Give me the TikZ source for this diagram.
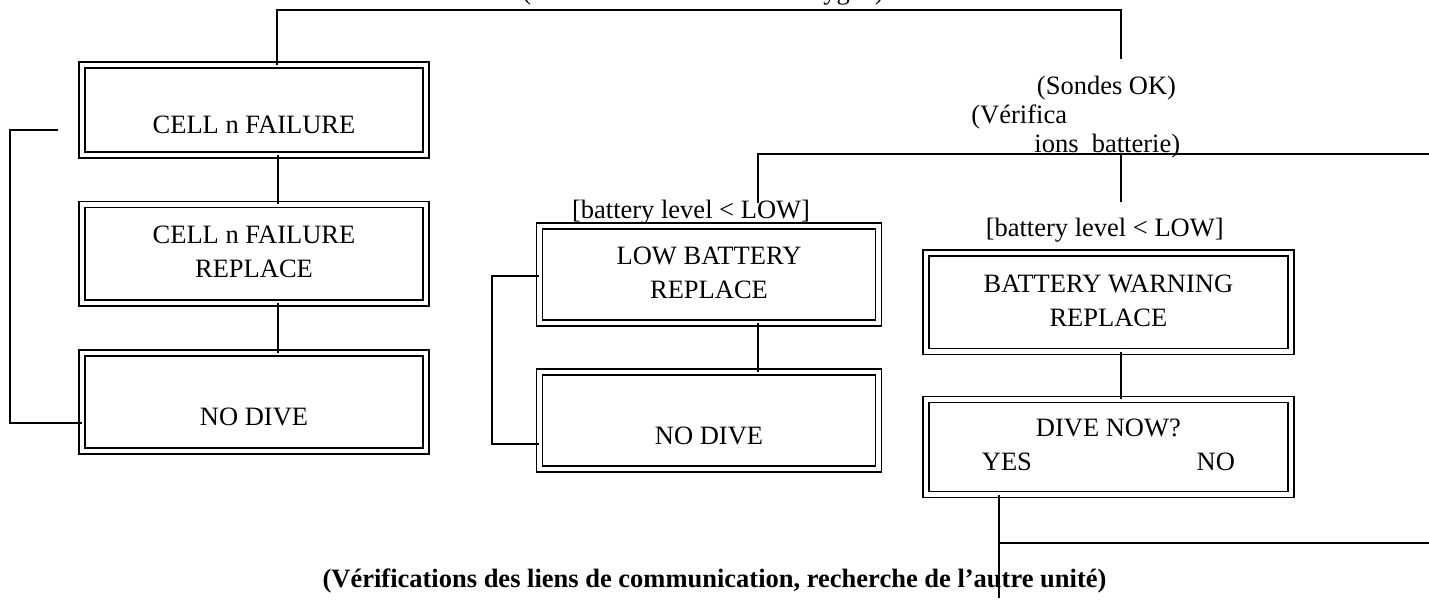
\documentclass[tikz,border=0pt]{standalone}
\usepackage{fontspec}
\setmainfont{Liberation Serif}
\usepackage{tikz}
\usetikzlibrary{positioning}

\newcommand{\screenfont}{\fontsize{13.25}{17}\selectfont}

\begin{document}
\begin{tikzpicture}[
    x=0.5pt, y=-0.5pt,
    screen/.style={
        rectangle, draw=black, line width=0.8pt,
        double=white, double distance=2.2pt,
        inner sep=0pt, outer sep=0pt, align=center,
        font=\screenfont
    },
    wire/.style={line width=1pt},
    cond/.style={inner sep=0pt, font=\screenfont}
]
    \useasboundingbox (0,0) rectangle (1429,606);

    % cell checks
    \node[screen, minimum width=172.25pt, minimum height=45.25pt] (cellfail) at (254,110)
        {\strut\\\strut CELL n FAILURE};
    \node[screen, minimum width=172.25pt, minimum height=49.25pt, below=24.6pt of cellfail] (cellrep)
        {\strut CELL n FAILURE\\\strut REPLACE};
    \node[screen, minimum width=172.25pt, minimum height=49pt, below=25pt of cellrep] (nodiveA)
        {\strut\\\strut NO DIVE};

    % battery checks
    \node[screen, minimum width=169.65pt, minimum height=48.5pt] (lowbat) at (709,274.5)
        {\strut LOW BATTERY\\\strut REPLACE};
    \node[screen, minimum width=169.65pt, minimum height=48.35pt, below=24.5pt of lowbat] (nodiveB)
        {\strut\\\strut NO DIVE};

    \node[screen, minimum width=182.65pt, minimum height=49.25pt] (batwarn) at (1108.4,302.3)
        {\strut BATTERY WARNING\\\strut REPLACE};
    \node[screen, minimum width=182.65pt, minimum height=47.6pt, below=23.9pt of batwarn] (divenow)
        {\strut DIVE NOW?\\\strut\makebox[126.5pt]{YES\hfill NO}};

    % texts
    \node[cond, anchor=base] (cellChk) at (703,-1) {(Vérifications des sondes oxygen)};
    \node[cond, anchor=base] (probesOk) at (1106.5,94) {(Sondes OK)};
    \node[cond, anchor=base west] (batChkA) at (971,123) {(Vérifica};
    \node[cond, anchor=base west] (batChkB) at (1034,152) {ions\ \ batterie)};
    \node[cond, anchor=base] (lowCond) at (691,218) {[battery level < LOW]};
    \node[cond, anchor=base] (warnCond) at (1104.7,236) {[battery level < LOW]};
    \node[cond, anchor=base, font=\screenfont\bfseries] (commChk) at (714.5,587)
        {(Vérifications des liens de communication, recherche de l’autre unité)};

    % free ends
    \coordinate (topR) at (1121,59);
    \coordinate (loopA) at (58,130);
    \coordinate (busR) at (1429,153.5);
    \coordinate (lowTap) at (757.7,203);
    \coordinate (warnTap) at (1121,202);
    \coordinate (yesEnd) at (998.6,598);
    \coordinate (noEnd) at (1429,543);

    % connectors
    \draw[wire] ([xshift=11.5pt]cellfail.north) -- ++(0,-55) -| (topR);
    \draw[wire] ([xshift=11.8pt]cellfail.south) -- ([xshift=11.8pt]cellrep.north);
    \draw[wire] ([xshift=11.8pt]cellrep.south) -- ([xshift=11.8pt]nodiveA.north);
    \draw[wire] (loopA) -- (9.5,130) |- ([yshift=-10.5pt]nodiveA.west);

    \draw[wire] (lowTap) |- (busR);
    \draw[wire] (warnTap |- busR) -- (warnTap);
    \draw[wire] ([xshift=24.5pt]lowbat.south) -- ([xshift=24.5pt]nodiveB.north);
    \draw[wire] ([yshift=-0.6pt]lowbat.west) -- ++(-47.7,0) |- ([yshift=-12pt]nodiveB.west);

    \draw[wire] ([xshift=6.5pt]batwarn.south) -- ([xshift=6.5pt]divenow.north);
    \draw[wire] ([xshift=-54.9pt]divenow.south) -- (yesEnd);
    \draw[wire] (yesEnd |- noEnd) -- (noEnd);
\end{tikzpicture}
\end{document}
